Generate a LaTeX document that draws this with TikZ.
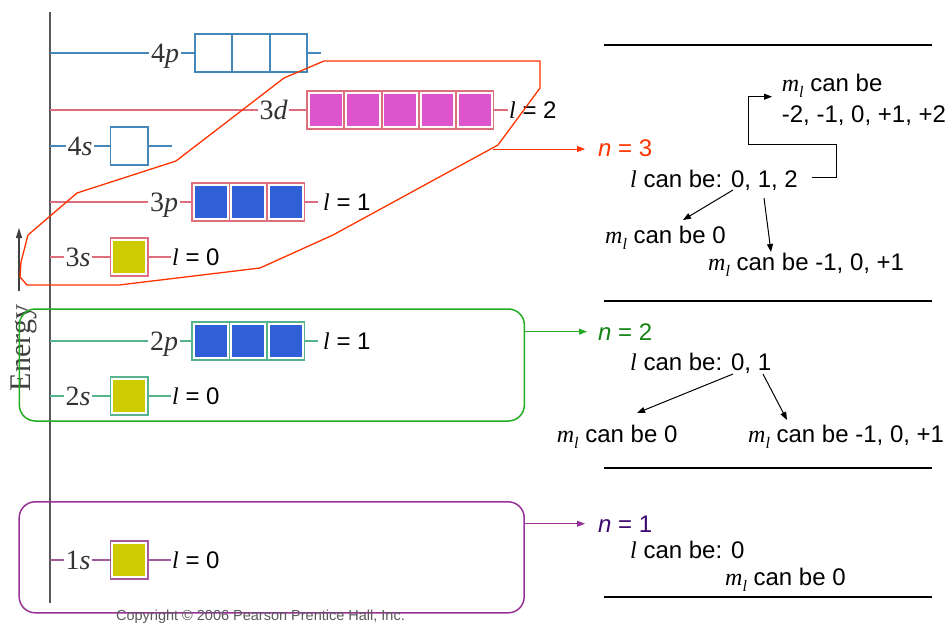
\documentclass[tikz,border=0pt]{standalone}
\usepackage{fontspec}
\setmainfont{Liberation Sans}
\newfontfamily\serfont{Liberation Serif}
\usetikzlibrary{arrows.meta}
\definecolor{lvblue}{RGB}{70,135,185}
\definecolor{lvred}{RGB}{220,110,125}
\definecolor{lvgreen}{RGB}{85,180,140}
\definecolor{lvpurple}{RGB}{165,90,155}
\definecolor{fyellow}{RGB}{204,204,0}
\definecolor{fblue}{RGB}{48,96,216}
\definecolor{fmag}{RGB}{221,85,204}
\definecolor{nred}{RGB}{255,51,0}
\definecolor{ngreen}{RGB}{34,170,34}
\definecolor{ntgreen}{RGB}{20,130,20}
\definecolor{npurple}{RGB}{150,50,150}
\definecolor{ntpurple}{RGB}{60,10,110}
\newcommand{\Lv}{{\serfont\itshape l}}
\newcommand{\Ml}{{\serfont\itshape m\raisebox{-0.25em}{\fontsize{16}{16}\selectfont l}}}
\tikzset{
  orb/.style={font=\fontsize{28}{28}\selectfont\serfont, text=black!80, inner sep=1.5pt, anchor=base},
  lvl/.style={line width=1.5pt},
  obox/.style={minimum width=37.5pt, minimum height=38pt, inner sep=0pt, outer sep=0pt, line width=1.8pt},
  dbox/.style={obox, minimum width=37.3pt},
  fillbox/.style={fill=white, path picture={\fill[#1] ([shift={(2.8pt,2.8pt)}]path picture bounding box.south west) rectangle ([shift={(-2.8pt,-2.8pt)}]path picture bounding box.north east);}},
  lval/.style={font=\fontsize{24}{24}\selectfont, inner sep=1pt, anchor=west},
  txt/.style={font=\fontsize{24}{24}\selectfont, inner sep=0pt, anchor=base west},
  arr/.style={-{Triangle[length=8pt,width=6pt]}, line width=1pt},
  rule/.style={line width=2pt, black}
}
\begin{document}
\begin{tikzpicture}[x=1pt,y=-1pt]
\useasboundingbox (0,0) rectangle (951,626);
% axis
\coordinate (axT) at (50,12);
\coordinate (axB) at (50,603);
\draw[line width=1.5pt, black!65] (axT) -- (axB);
% energy arrow
\coordinate (enB) at (19,291);
\coordinate (enT) at (19,228);
\draw[-{Triangle[length=10pt,width=6pt]}, line width=1.2pt, black!75] (enB) -- (enT);
\node[rotate=90, font=\fontsize{30}{30}\selectfont\serfont, text=black!75, inner sep=0pt] (energy) at (23.5,348) {Energy};

% ---- 4p
\coordinate (a4p) at (50,53);
\node[orb] (L4p) at (165,62.5) {4\textit{p}};
\node[obox, draw=lvblue] (B4p1) at (213.45,53) {};
\node[obox, draw=lvblue, anchor=west] (B4p2) at (B4p1.east) {};
\node[obox, draw=lvblue, anchor=west] (B4p3) at (B4p2.east) {};
\coordinate (e4p) at (321,53);
\draw[lvl, lvblue] (a4p) -- (a4p -| L4p.west) (L4p.east |- a4p) -- (B4p1.west) (B4p3.east) -- (e4p);

% ---- 3d
\coordinate (a3d) at (50,110);
\node[orb] (L3d) at (273.6,119.5) {3\textit{d}};
\node[dbox, draw=lvred, fillbox=fmag] (B3d1) at (325.65,110) {};
\node[dbox, draw=lvred, fillbox=fmag, anchor=west] (B3d2) at (B3d1.east) {};
\node[dbox, draw=lvred, fillbox=fmag, anchor=west] (B3d3) at (B3d2.east) {};
\node[dbox, draw=lvred, fillbox=fmag, anchor=west] (B3d4) at (B3d3.east) {};
\node[dbox, draw=lvred, fillbox=fmag, anchor=west] (B3d5) at (B3d4.east) {};
\node[lval] (V3d) at (508,110) {\Lv{} = 2};
\draw[lvl, lvred] (a3d) -- (a3d -| L3d.west) (L3d.east |- a3d) -- (B3d1.west) (B3d5.east) -- (V3d.west);

% ---- 4s
\coordinate (a4s) at (50,146);
\node[orb] (L4s) at (80,155.5) {4\textit{s}};
\node[obox, draw=lvblue] (B4s) at (129.25,146) {};
\coordinate (e4s) at (172,146);
\draw[lvl, lvblue] (a4s) -- (a4s -| L4s.west) (L4s.east |- a4s) -- (B4s.west) (B4s.east) -- (e4s);

% ---- 3p
\coordinate (a3p) at (50,202);
\node[orb] (L3p) at (164,211.5) {3\textit{p}};
\node[obox, draw=lvred, fillbox=fblue] (B3p1) at (210.75,202) {};
\node[obox, draw=lvred, fillbox=fblue, anchor=west] (B3p2) at (B3p1.east) {};
\node[obox, draw=lvred, fillbox=fblue, anchor=west] (B3p3) at (B3p2.east) {};
\node[lval] (V3p) at (322,202) {\Lv{} = 1};
\draw[lvl, lvred] (a3p) -- (a3p -| L3p.west) (L3p.east |- a3p) -- (B3p1.west) (B3p3.east) -- ([xshift=-4pt]V3p.west);

% ---- 3s
\coordinate (a3s) at (50,257);
\node[orb] (L3s) at (78,266.5) {3\textit{s}};
\node[obox, draw=lvred, fillbox=fyellow] (B3s) at (129.25,257) {};
\node[lval] (V3s) at (171,257) {\Lv{} = 0};
\draw[lvl, lvred] (a3s) -- (a3s -| L3s.west) (L3s.east |- a3s) -- (B3s.west) (B3s.east) -- (V3s.west);

% ---- 2p
\coordinate (a2p) at (50,341);
\node[orb] (L2p) at (164,350.5) {2\textit{p}};
\node[obox, draw=lvgreen, fillbox=fblue] (B2p1) at (210.75,341) {};
\node[obox, draw=lvgreen, fillbox=fblue, anchor=west] (B2p2) at (B2p1.east) {};
\node[obox, draw=lvgreen, fillbox=fblue, anchor=west] (B2p3) at (B2p2.east) {};
\node[lval] (V2p) at (322,341) {\Lv{} = 1};
\draw[lvl, lvgreen] (a2p) -- (a2p -| L2p.west) (L2p.east |- a2p) -- (B2p1.west) (B2p3.east) -- ([xshift=-4pt]V2p.west);

% ---- 2s
\coordinate (a2s) at (50,396);
\node[orb] (L2s) at (78,405.5) {2\textit{s}};
\node[obox, draw=lvgreen, fillbox=fyellow] (B2s) at (129.25,396) {};
\node[lval] (V2s) at (171,396) {\Lv{} = 0};
\draw[lvl, lvgreen] (a2s) -- (a2s -| L2s.west) (L2s.east |- a2s) -- (B2s.west) (B2s.east) -- (V2s.west);

% ---- 1s
\coordinate (a1s) at (50,560);
\node[orb] (L1s) at (78,569.5) {1\textit{s}};
\node[obox, draw=lvpurple, fillbox=fyellow] (B1s) at (129.25,560) {};
\node[lval] (V1s) at (171,560) {\Lv{} = 0};
\draw[lvl, lvpurple] (a1s) -- (a1s -| L1s.west) (L1s.east |- a1s) -- (B1s.west) (B1s.east) -- (V1s.west);

% ---- groups
\draw[nred, line width=1.3pt] (27,285) -- (20,277) -- (21,262) -- (28,235) -- (77,193) -- (176,161) -- (284,78) -- (324,61) -- (540,61) -- (540,88) -- (498,145) -- (333,235) -- (260,268) -- (119,285) -- cycle;
\coordinate (P3) at (493,149);
\node[draw=ngreen, line width=1.5pt, rounded corners=16pt, minimum width=505pt, minimum height=112pt, inner sep=0pt] (G2) at (271.85,365) {};
\node[draw=npurple, line width=1.5pt, rounded corners=16pt, minimum width=505pt, minimum height=111pt, inner sep=0pt] (G1) at (271.7,557.3) {};

% ---- right side text
\node[txt, text=nred] (N3) at (598,156) {\textit{n} = 3};
\node[txt] (L3) at (630,187) {\Lv{} can be: 0, 1, 2};
\node[txt] (M3a) at (781.7,92) {\Ml{} can be};
\node[txt] (M3b) at (781.7,122) {-2, -1, 0, +1, +2};
\node[txt] (M3c) at (605,243) {\Ml{} can be 0};
\node[txt] (M3d) at (708,270) {\Ml{} can be -1, 0, +1};
\node[txt, text=ntgreen] (N2) at (598,340) {\textit{n} = 2};
\node[txt] (L2) at (630,370) {\Lv{} can be: 0, 1};
\node[txt] (M2a) at (556.7,442) {\Ml{} can be 0};
\node[txt] (M2b) at (748,442) {\Ml{} can be -1, 0, +1};
\node[txt, text=ntpurple] (N1) at (598,532) {\textit{n} = 1};
\node[txt] (L1) at (630,558) {\Lv{} can be: 0};
\node[txt] (M1) at (725,585) {\Ml{} can be 0};

% group arrows
\draw[arr, nred, shorten >=13pt] (P3) -- (P3 -| N3.west);
\draw[arr, ngreen, shorten >=11pt] (G2.east |- N2.west) -- (N2.west);
\draw[arr, npurple, shorten >=13pt] (G1.east |- N1.west) -- (N1.west);

% rules
\coordinate (r1a) at (604,45);  \coordinate (r1b) at (932,45);
\coordinate (r2a) at (604,301); \coordinate (r2b) at (932,301);
\coordinate (r3a) at (604,468); \coordinate (r3b) at (932,468);
\coordinate (r4a) at (604,597); \coordinate (r4b) at (932,597);
\draw[rule] (r1a) -- (r1b) (r2a) -- (r2b) (r3a) -- (r3b) (r4a) -- (r4b);

% n=3 connectors
\coordinate (c0) at (812,177);
\coordinate (c1) at (836,144.3);
\coordinate (c2) at (748,96.7);
\coordinate (c3) at (772,96.7);
\draw[arr] (c0) -| (c1) -| (c2) -- (c3);
\coordinate (d1s) at (733,190); \coordinate (d1e) at (683,220);
\coordinate (d2s) at (764,198); \coordinate (d2e) at (771,252);
\draw[arr] (d1s) -- (d1e);
\draw[arr] (d2s) -- (d2e);
% n=2 connectors
\coordinate (f1s) at (733,374); \coordinate (f1e) at (637,413);
\coordinate (f2s) at (763,374); \coordinate (f2e) at (787,420);
\draw[arr] (f1s) -- (f1e);
\draw[arr] (f2s) -- (f2e);

% copyright
\node[font=\fontsize{14.5}{14.5}\selectfont, text=black!65, inner sep=0pt] (copy) at (260.5,617) {Copyright \textcopyright{} 2006 Pearson Prentice Hall, Inc.};
\end{tikzpicture}
\end{document}
